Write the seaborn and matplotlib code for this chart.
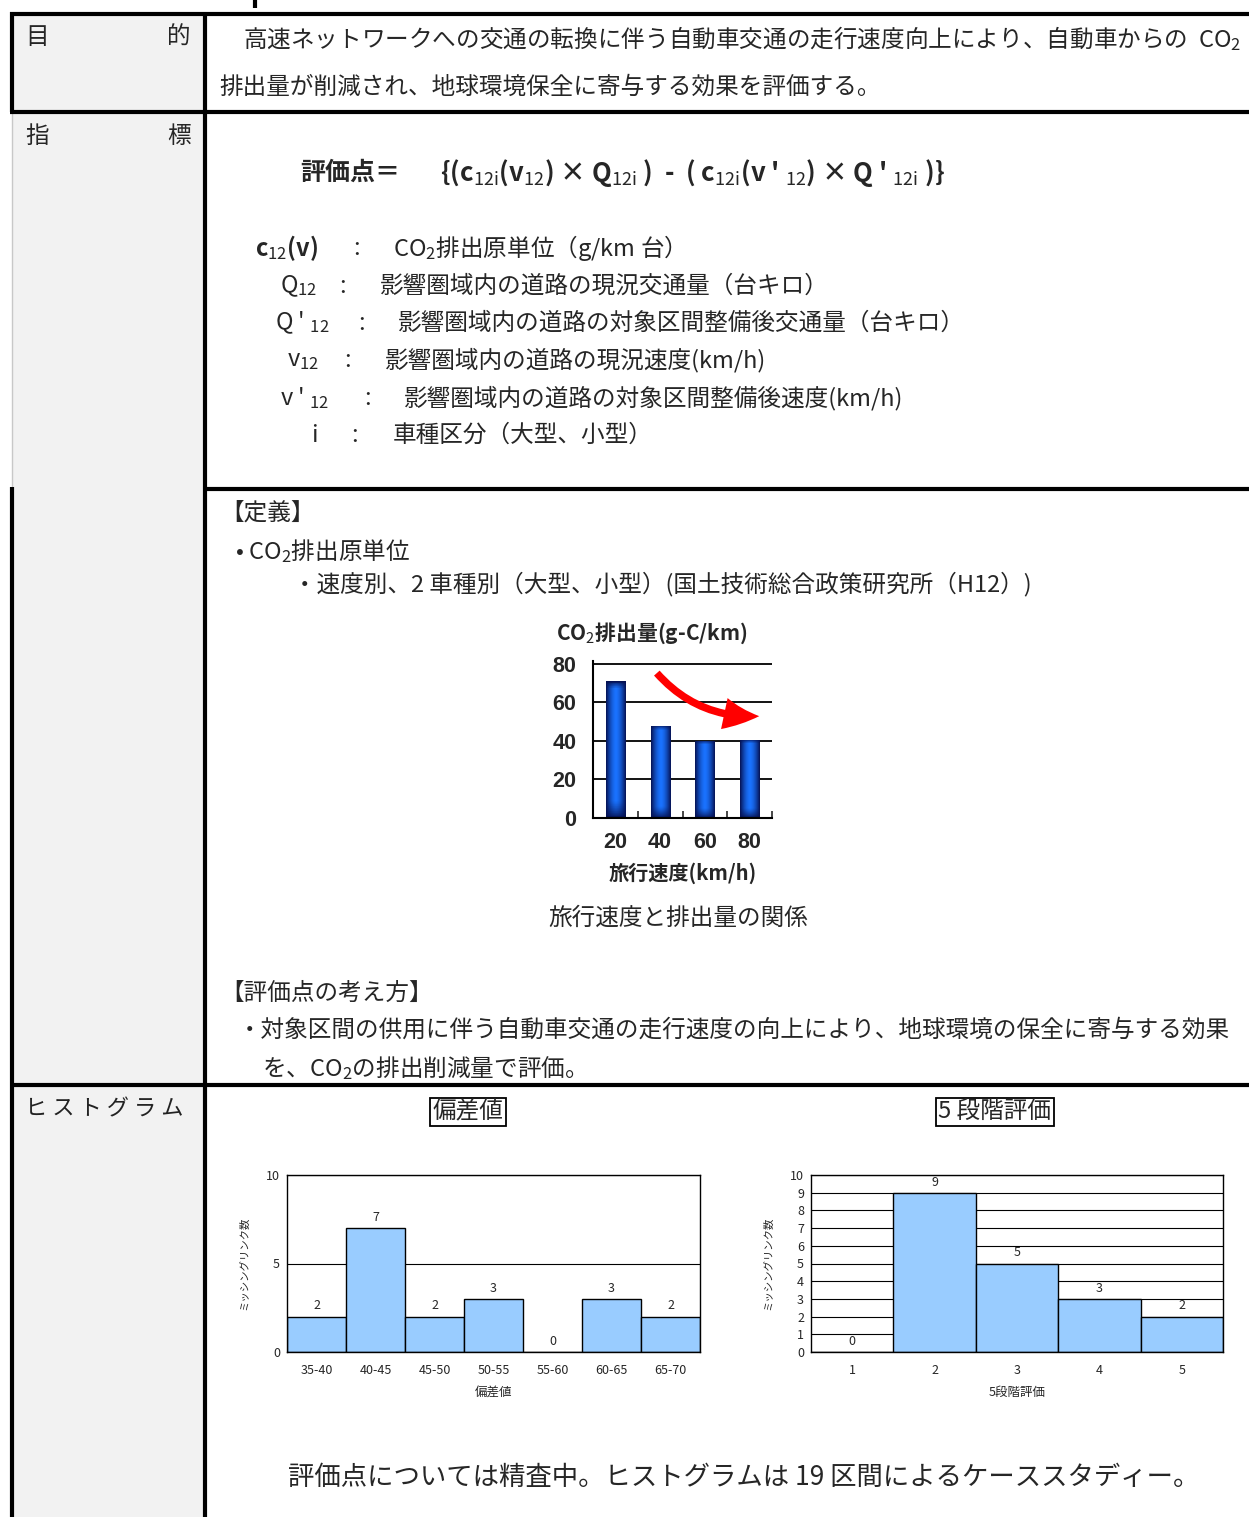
import matplotlib
matplotlib.use('Agg')
import matplotlib.pyplot as plt
import seaborn as sns
import numpy as np
import pandas as pd
from matplotlib.patches import Rectangle, FancyArrowPatch

W, H = 1249, 1517

# 旅行速度と排出量の関係
speed_labels = ['20', '40', '60', '80']
co2_values = [71, 48, 40, 40.5]

# ヒストグラム (偏差値)
dev_labels = ['35-40', '40-45', '45-50', '50-55', '55-60', '60-65', '65-70']
dev_counts = [2, 7, 2, 3, 0, 3, 2]

# ヒストグラム (5段階評価)
grade_labels = ['1', '2', '3', '4', '5']
grade_counts = [0, 9, 5, 3, 2]

sns.set_style('white')
JP = 'Noto Sans CJK JP'
plt.rcParams['font.family'] = [JP, 'DejaVu Sans']
plt.rcParams['mathtext.fontset'] = 'custom'
plt.rcParams['mathtext.rm'] = JP
plt.rcParams['mathtext.it'] = JP
plt.rcParams['mathtext.bf'] = JP + ':bold'

fig = plt.figure(figsize=(W / 100, H / 100), dpi=100)
bg = fig.add_axes([0, 0, 1, 1])
bg.set_xlim(0, W)
bg.set_ylim(H, 0)
bg.axis('off')


def px_axes(x0, y0, x1, y1):
    return fig.add_axes([x0 / W, 1 - y1 / H, (x1 - x0) / W, (y1 - y0) / H])


def txt(x, y, s, size=17, **kw):
    kw.setdefault('ha', 'left')
    kw.setdefault('va', 'center')
    bg.text(x, y, s, fontsize=size, **kw)


# --- table frame ---
bg.add_patch(Rectangle((12, 14), 193, H - 14, facecolor='#f2f2f2', edgecolor='none', zorder=0))
LW = 3.0
line = dict(color='black', lw=LW, solid_capstyle='butt', zorder=5)
bg.plot([10, W], [14, 14], **line)
bg.plot([12, 12], [12, 112], **line)
bg.plot([12, 12], [112, 489], color='#c8c8c8', lw=1.0, zorder=4)
bg.plot([12, 12], [487, H], **line)
bg.plot([205, 205], [12, H], **line)
bg.plot([10, W], [112, 112], **line)
bg.plot([205, W], [489, 489], **line)
bg.plot([10, W], [1085, 1085], **line)
bg.plot([255, 255], [0, 8], **line)

# --- left column labels ---
txt(25, 37, '目')
txt(167, 37, '的')
txt(25, 136, '指')
txt(167, 136, '標')
txt(25, 1109, 'ヒ ス ト グ ラ ム', size=16, color='#222222')

# --- 目的 ---
txt(243, 39, '高速ネットワークへの交通の転換に伴う自動車交通の走行速度向上により、自動車からの  CO$_2$')
txt(219, 87, '排出量が削減され、地球環境保全に寄与する効果を評価する。')

# --- 指標 ---
txt(300, 173, '評価点＝', size=18, fontweight='bold')
txt(440, 173, "{(c$_{12i}$(v$_{12}$) × Q$_{12i}$ )  -  ( c$_{12i}$(v ' $_{12}$) × Q ' $_{12i}$ )}",
    size=18.5, fontweight='bold')

defs = [
    (255, 248, 'c$_{12}$(v)', 357, 393, 'CO$_2$排出原単位（g/km 台）'),
    (280, 286, 'Q$_{12}$', 343, 380, '影響圏域内の道路の現況交通量（台キロ）'),
    (275, 323, "Q ' $_{12}$", 362, 398, '影響圏域内の道路の対象区間整備後交通量（台キロ）'),
    (287, 360, 'v$_{12}$', 348, 385, '影響圏域内の道路の現況速度(km/h)'),
    (280, 398, "v ' $_{12}$", 368, 404, '影響圏域内の道路の対象区間整備後速度(km/h)'),
    (311, 435, 'i', 355, 393, '車種区分（大型、小型）'),
]
for sx, y, sym, cx, tx, desc in defs:
    txt(sx, y, sym, fontweight='bold' if sym.endswith('(v)') else 'normal')
    txt(cx, y, ':', ha='center')
    txt(tx, y, desc)

# --- 定義 ---
txt(220, 513, '【定義】')
txt(235, 551, '• CO$_2$排出原単位')
txt(293, 584, '・速度別、2 車種別（大型、小型）(国土技術総合政策研究所（H12）)')

# small bar chart
ax0 = px_axes(593, 661, 772, 818)
ax0.set_facecolor('none')
df0 = pd.DataFrame({'speed': speed_labels, 'co2': co2_values})
sns.barplot(data=df0, x='speed', y='co2', ax=ax0, width=0.43, color='#0b2a9a',
            saturation=1, edgecolor='none')
u = np.linspace(0, 1, 60)
hprof = 1 - np.abs(2 * u - 1) ** 1.6
dark = np.array([0.02, 0.07, 0.33])
bright = np.array([0.10, 0.45, 1.00])
for p in ax0.patches:
    x0, y0 = p.get_x(), p.get_y()
    w, h = p.get_width(), p.get_height()
    v = np.linspace(0, 1, 80)
    vprof = np.clip(np.minimum(v / 0.12, (1 - v) / 0.05), 0, 1) ** 0.7
    f = vprof[:, None] * hprof[None, :]
    img = dark[None, None, :] + (bright - dark)[None, None, :] * f[:, :, None]
    im = ax0.imshow(img, extent=[x0, x0 + w, y0, y0 + h], origin='lower',
                    aspect='auto', zorder=2)
    im.set_clip_path(p)
ax0.set_xlim(-0.5, 3.5)
ax0.set_ylim(0, 81.5)
ax0.set_yticks([0, 20, 40, 60, 80])
ax0.yaxis.grid(True, color='black', lw=1.3)
ax0.set_axisbelow(True)
for s in ['top', 'right']:
    ax0.spines[s].set_visible(False)
for s in ['left', 'bottom']:
    ax0.spines[s].set_color('black')
    ax0.spines[s].set_linewidth(1.5)
ax0.set_xticks([0.5, 1.5, 2.5, 3.5], minor=True)
ax0.tick_params(axis='x', which='minor', bottom=True, direction='in', length=5, width=1.2)
ax0.tick_params(axis='x', which='major', length=0, pad=10)
ax0.tick_params(axis='y', length=0, pad=12)
for lab in ax0.get_xticklabels() + ax0.get_yticklabels():
    lab.set_fontweight('bold')
    lab.set_fontsize(15.5)
    lab.set_family('Liberation Sans')
ax0.set_xlabel('')
ax0.set_ylabel('')

txt(556, 633, 'CO$_2$排出量(g-C/km)', size=15, fontweight='bold')
txt(683, 873, '旅行速度(km/h)', size=14.5, fontweight='bold', ha='center')
txt(678, 918, '旅行速度と排出量の関係', ha='center')
arrow = FancyArrowPatch((655, 671), (762, 716), connectionstyle='arc3,rad=0.25',
                        arrowstyle='simple,head_width=1.9,head_length=2.1,tail_width=0.45',
                        mutation_scale=12, color='#ff0000', lw=0, zorder=10,
                        transform=bg.transData)
fig.add_artist(arrow)

# --- 評価点の考え方 ---
txt(220, 993, '【評価点の考え方】')
txt(238, 1030, '・対象区間の供用に伴う自動車交通の走行速度の向上により、地球環境の保全に寄与する効果')
txt(262, 1068, 'を、CO$_2$の排出削減量で評価。')

# --- ヒストグラム ---
box = dict(boxstyle='square,pad=0.12', fc='white', ec='black', lw=1.3)
txt(468, 1112, '偏差値', ha='center', bbox=box)
txt(995, 1112, '5 段階評価', ha='center', bbox=box)


def histo(ax, labels, counts, yticks, xlabel):
    df = pd.DataFrame({'cls': labels, 'n': counts})
    sns.barplot(data=df, x='cls', y='n', ax=ax, width=1.0, color='#99ccff',
                saturation=1, edgecolor='black', linewidth=1.0)
    ax.set_xlim(-0.5, len(labels) - 0.5)
    ax.set_ylim(0, 10)
    ax.set_yticks(yticks)
    ax.yaxis.grid(True, color='black', lw=0.8)
    ax.set_axisbelow(True)
    for s in ax.spines.values():
        s.set_visible(True)
        s.set_color('black')
        s.set_linewidth(1.0)
    ax.bar_label(ax.containers[0], padding=3, fontsize=9)
    ax.tick_params(axis='both', length=0, labelsize=9)
    ax.tick_params(axis='x', pad=9)
    ax.tick_params(axis='y', pad=5)
    ax.set_xlabel(xlabel, fontsize=9, labelpad=6)
    ax.set_ylabel('ミッシングリンク数', fontsize=7.5, labelpad=12)


ax1 = px_axes(287, 1175, 700, 1352)
histo(ax1, dev_labels, dev_counts, [0, 5, 10], '偏差値')
ax2 = px_axes(811, 1175, 1223, 1352)
histo(ax2, grade_labels, grade_counts, list(range(11)), '5段階評価')

txt(744, 1477, '評価点については精査中。ヒストグラムは 19 区間によるケーススタディー。',
    size=19, ha='center')

fig.savefig('out.png', dpi=100)
